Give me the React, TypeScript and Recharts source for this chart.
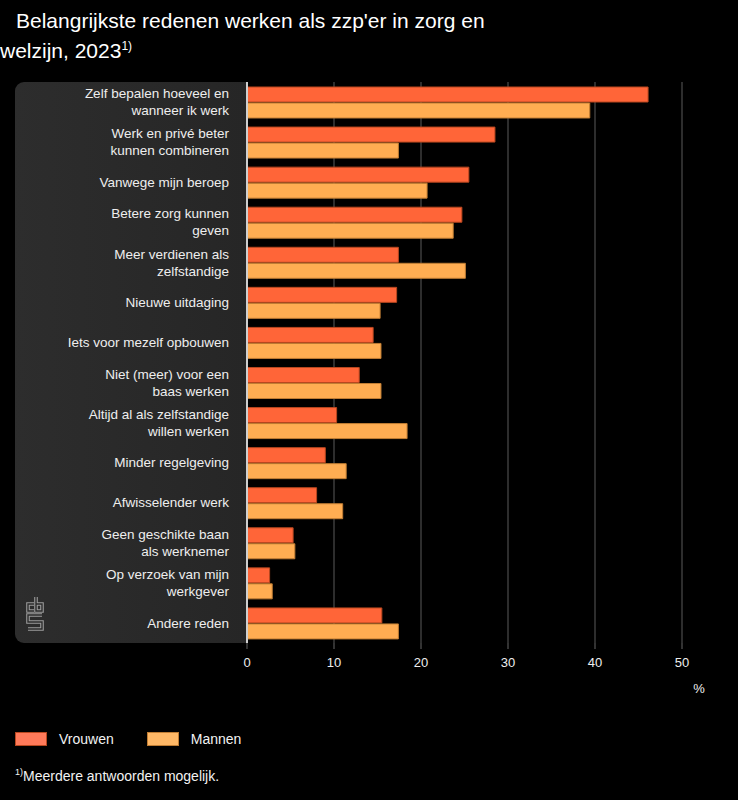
import React from 'react';
import { BarChart, Bar, XAxis, YAxis, CartesianGrid, Label } from 'recharts';

const reasons = [
  'Zelf bepalen hoeveel en\nwanneer ik werk',
  'Werk en privé beter\nkunnen combineren',
  'Vanwege mijn beroep',
  'Betere zorg kunnen\ngeven',
  'Meer verdienen als\nzelfstandige',
  'Nieuwe uitdaging',
  'Iets voor mezelf opbouwen',
  'Niet (meer) voor een\nbaas werken',
  'Altijd al als zelfstandige\nwillen werken',
  'Minder regelgeving',
  'Afwisselender werk',
  'Geen geschikte baan\nals werknemer',
  'Op verzoek van mijn\nwerkgever',
  'Andere reden',
];
const vrouwen = [46.1, 28.5, 25.5, 24.7, 17.4, 17.2, 14.5, 12.9, 10.3, 9.0, 8.0, 5.3, 2.6, 15.5];
const mannen = [39.4, 17.4, 20.7, 23.7, 25.1, 15.3, 15.4, 15.4, 18.4, 11.4, 11.0, 5.5, 2.9, 17.4];
const xTicks = [0, 10, 20, 30, 40, 50];

const series = [
  { key: 'vrouwen', name: 'Vrouwen', fill: '#ff6538', stroke: '#b8471f', swatch: '#ff7a5a' },
  { key: 'mannen', name: 'Mannen', fill: '#ffad52', stroke: '#c07d33', swatch: '#ffb866' },
];

const data = reasons.map((reason, i) => ({ reason, vrouwen: vrouwen[i], mannen: mannen[i] }));

const font = '"Liberation Sans", Arial, sans-serif';

const ReasonTick = (props: any) => {
  const { x, y, payload } = props;
  const lines = String(payload.value).split('\n');
  const lh = 17;
  const y0 = y - ((lines.length - 1) * lh) / 2;
  return (
    <text x={x} y={y0} textAnchor="end" fill="#eeeeee" fontSize={13.5} fontFamily={font}>
      {lines.map((l, i) => (
        <tspan key={i} x={x} dy={i === 0 ? '0.35em' : lh}>
          {l}
        </tspan>
      ))}
    </text>
  );
};

// cbs logo, double-line look: wide grey stroke with a thin panel-coloured stroke on top
const CbsLogo = () => {
  const d =
    'M34,604 L28,604 L28,611 L34,611 M36,597 L36,611 L42,611 L42,604 L36,604 M42,615 L28,615 L28,622 L42,622 L42,629 L28,629';
  return (
    <svg width={60} height={60} viewBox="15 585 60 60" style={{ position: 'absolute', left: 15, top: 585 }}>
      <path d={d} fill="none" stroke="#9c9c9c" strokeWidth={3.6} strokeLinejoin="miter" />
      <path d={d} fill="none" stroke="#2a2a2a" strokeWidth={1.4} strokeLinejoin="miter" />
    </svg>
  );
};

export default function App() {
  return (
    <div
      style={{
        position: 'absolute',
        left: 0,
        top: 0,
        width: 738,
        height: 800,
        background: '#000',
        fontFamily: font,
        color: '#fff',
        overflow: 'hidden',
      }}
    >
      <div style={{ position: 'absolute', left: 16, top: 9, fontSize: 21, lineHeight: '24px', whiteSpace: 'nowrap' }}>
        Belangrijkste redenen werken als zzp'er in zorg en
      </div>
      <div style={{ position: 'absolute', left: 0, top: 34, fontSize: 21, lineHeight: '24px', whiteSpace: 'nowrap' }}>
        welzijn, 2023<span style={{ fontSize: 12, verticalAlign: 8 }}>1)</span>
      </div>

      <div
        style={{
          position: 'absolute',
          left: 15,
          top: 82,
          width: 232,
          height: 561,
          background: 'linear-gradient(to right, #2d2d2d, #262626)',
          borderRadius: '9px 0 0 9px',
        }}
      />
      <CbsLogo />

      <div style={{ position: 'absolute', left: 0, top: 0 }}>
        <BarChart
          width={738}
          height={700}
          data={data}
          layout="vertical"
          margin={{ top: 82, right: 56, bottom: 27, left: 15 }}
          barSize={15}
          barGap={1}
        >
          <CartesianGrid horizontal={false} stroke="#5a5a5a" />
          <XAxis
            type="number"
            domain={[0, 50]}
            ticks={xTicks}
            axisLine={false}
            tickLine={{ stroke: '#666' }}
            tickSize={6}
            tickMargin={9}
            height={30}
            tick={{ fill: '#eeeeee', fontSize: 13, fontFamily: font }}
          >
            <Label
              content={(p: any) => (
                <text
                  x={p.viewBox.x + p.viewBox.width + 17}
                  y={p.viewBox.y + 45}
                  fill="#eeeeee"
                  fontSize={13}
                  fontFamily={font}
                  textAnchor="middle"
                  dominantBaseline="central"
                >
                  %
                </text>
              )}
            />
          </XAxis>
          <YAxis
            type="category"
            dataKey="reason"
            width={232}
            interval={0}
            axisLine={{ stroke: '#cfcfcf', strokeWidth: 2 }}
            tickLine={false}
            tickSize={0}
            tickMargin={18}
            tick={<ReasonTick />}
          />
          {series.map((s) => (
            <Bar
              key={s.key}
              dataKey={s.key}
              name={s.name}
              fill={s.fill}
              stroke={s.stroke}
              strokeWidth={1}
              isAnimationActive={false}
            />
          ))}
        </BarChart>
      </div>

      <div style={{ position: 'absolute', left: 15, top: 731, display: 'flex', alignItems: 'center', fontSize: 14 }}>
        {series.map((s) => (
          <div key={s.key} style={{ display: 'flex', alignItems: 'center', marginRight: 33 }}>
            <div
              style={{
                width: 30,
                height: 12,
                background: s.swatch,
                border: `1px solid ${s.stroke}`,
                marginRight: 12,
              }}
            />
            <span style={{ color: '#f2f2f2' }}>{s.name}</span>
          </div>
        ))}
      </div>

      <div style={{ position: 'absolute', left: 15, top: 767, fontSize: 14, color: '#f2f2f2', whiteSpace: 'nowrap' }}>
        <span style={{ fontSize: 9, verticalAlign: 6 }}>1)</span>Meerdere antwoorden mogelijk.
      </div>
    </div>
  );
}
